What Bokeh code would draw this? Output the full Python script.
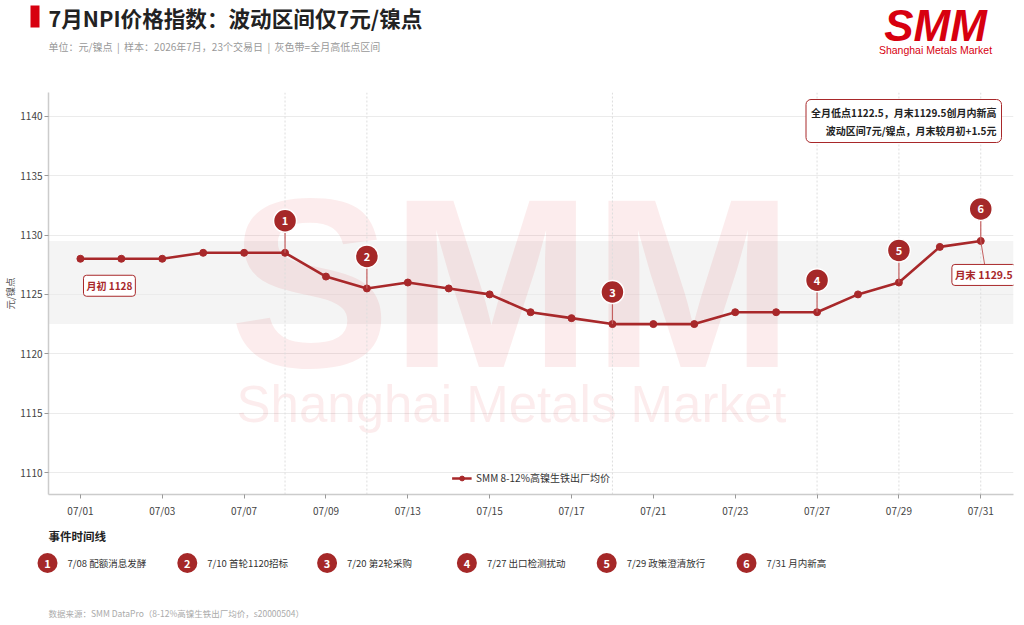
from bokeh.plotting import figure
from bokeh.models import Range1d, FixedTicker, Label, Span, BoxAnnotation, Legend, LegendItem
from bokeh.layouts import column, row
from bokeh.embed import file_html
from bokeh.resources import INLINE
from bokeh.core.properties import value

# ---------------- data ----------------
dates = ["07/01", "07/02", "07/03", "07/06", "07/07", "07/08", "07/09", "07/10",
         "07/13", "07/14", "07/15", "07/16", "07/17", "07/20", "07/21", "07/22",
         "07/23", "07/24", "07/27", "07/28", "07/29", "07/30", "07/31"]
prices = [1128, 1128, 1128, 1128.5, 1128.5, 1128.5, 1126.5, 1125.5,
          1126, 1125.5, 1125, 1123.5, 1123, 1122.5, 1122.5, 1122.5,
          1123.5, 1123.5, 1123.5, 1125, 1126, 1129, 1129.5]
event_nums = ["1", "2", "3", "4", "5", "6"]
event_dates = ["07/08", "07/10", "07/20", "07/27", "07/29", "07/31"]
event_texts = ["7/08 配额消息发酵", "7/10 首轮1120招标", "7/20 第2轮采购",
               "7/27 出口检测扰动", "7/29 政策澄清放行", "7/31 月内新高"]
y_ticks = [1110, 1115, 1120, 1125, 1130, 1135, 1140]
tick_idx = list(range(0, len(dates), 2))
series_name = "SMM 8-12%高镍生铁出厂均价"

SP = "\u00a0\u00a0"
title = "7月NPI价格指数：波动区间仅7元/镍点"
subtitle = ("单位：元/镍点" + SP + "|" + SP + "样本：2026年7月，23个交易日" + SP + "|" + SP
            + "灰色带=全月高低点区间")
note = "全月低点1122.5，月末1129.5创月内新高\n波动区间7元/镍点，月末较月初+1.5元"
source = "数据来源：SMM DataPro（8-12%高镍生铁出厂均价，s20000504）"
start_label = "月初 1128"
end_label = "月末 1129.5"

CJK = "Noto Sans CJK SC"
RED = "#A8282A"
DARK_RED = "#A52828"
LOGO_RED = "#D7000F"
W = 1020
HEAD_H, MAIN_H, FOOT_H = 88, 434, 100


def bare(height):
    f = figure(width=W, height=height, x_range=Range1d(0, W), y_range=Range1d(height, 0),
               output_backend="svg", toolbar_location=None, min_border=0,
               x_axis_type=None, y_axis_type=None)
    f.outline_line_color = None
    f.grid.visible = False
    return f


# ---------------- header ----------------
h = bare(HEAD_H)
h.quad(left=30, right=39, top=5, bottom=27, fill_color=LOGO_RED, line_color=None)
h.add_layout(Label(x=48, y=16.5, text=title, text_font=CJK, text_font_size="21.6px",
                   text_font_style="bold", text_color="#222222", text_baseline="middle"))
h.add_layout(Label(x=48, y=45.5, text=subtitle, text_font=CJK, text_font_size="10px",
                   text_color="#999999", text_baseline="middle"))
h.add_layout(Label(x=935, y=25, text="SMM", text_font="Liberation Sans", text_font_size="44px",
                   text_font_style="bold italic", text_color=LOGO_RED, text_align="center",
                   text_baseline="middle"))
h.add_layout(Label(x=935, y=49, text="Shanghai Metals Market", text_font="Liberation Sans",
                   text_font_size="10.5px", text_color=LOGO_RED, text_align="center",
                   text_baseline="middle"))

# ---------------- main chart ----------------
idx = list(range(len(dates)))
p = figure(width=W, height=MAIN_H, x_range=Range1d(-0.78, 22.8),
           y_range=Range1d(1108.15, 1142.0),
           output_backend="svg", toolbar_location=None,
           min_border_left=48, min_border_right=W - 1013, min_border_top=92 - HEAD_H,
           min_border_bottom=HEAD_H + MAIN_H - 494)
p.outline_line_color = None
p.xgrid.grid_line_color = None
p.ygrid.grid_line_color = "#ebebeb"
p.ygrid.grid_line_width = 1

p.yaxis.ticker = FixedTicker(ticks=y_ticks)
p.xaxis.ticker = FixedTicker(ticks=tick_idx)
p.xaxis.major_label_overrides = {i: dates[i] for i in tick_idx}
for ax in (p.xaxis, p.yaxis):
    ax.axis_line_color = "#cccccc"
    ax.axis_line_width = 1.5
    ax.major_tick_line_color = "#999999"
    ax.major_tick_out = 4
    ax.major_tick_in = 0
    ax.minor_tick_line_color = None
    ax.major_label_text_font = CJK
    ax.major_label_text_font_size = "10px"
    ax.major_label_text_color = "#444444"
    ax.major_label_standoff = 4
p.yaxis.major_label_standoff = 2
p.yaxis.axis_label = "元/镍点"
p.yaxis.axis_label_text_font = CJK
p.yaxis.axis_label_text_font_size = "9.5px"
p.yaxis.axis_label_text_font_style = "normal"
p.yaxis.axis_label_text_color = "#555555"
p.yaxis.axis_label_standoff = 0

# range band
p.add_layout(BoxAnnotation(bottom=min(prices), top=max(prices), fill_color="#f4f4f4",
                           fill_alpha=1, line_color=None, level="image"))

# watermark (screen units relative to the frame: left 48, bottom 494)
p.add_layout(Label(x=511 - 48, y=494 - 282, x_units="screen", y_units="screen", text="SMM",
                   text_font="Liberation Sans", text_font_size="242px", text_font_style="bold",
                   text_color=LOGO_RED, text_alpha=0.075, text_align="center",
                   text_baseline="middle", level="underlay"))
p.add_layout(Label(x=511 - 48, y=494 - 404, x_units="screen", y_units="screen",
                   text="Shanghai Metals Market",
                   text_font="Liberation Sans", text_font_size="51px",
                   text_color=LOGO_RED, text_alpha=0.075, text_align="center",
                   text_baseline="middle", level="underlay"))

# event vertical lines
ev_idx = [dates.index(d) for d in event_dates]
ev_price = [prices[i] for i in ev_idx]
for i in ev_idx:
    p.add_layout(Span(location=i, dimension="height", line_color="#dddddd",
                      line_dash="2 2", line_width=1, level="underlay"))

# series
line_r = p.line(idx, prices, line_color=RED, line_width=2.6)
pts_r = p.scatter(idx, prices, size=7, fill_color=RED, line_color=RED)

# event markers
stem_off = 2.7
p.segment(x0=ev_idx, y0=ev_price, x1=ev_idx, y1=[v + stem_off for v in ev_price],
          line_color="#c46060", line_width=1.2)
p.scatter(ev_idx, [v + stem_off for v in ev_price], size=23, fill_color=DARK_RED,
          line_color="white", line_width=1.5)
p.text(ev_idx, [v + stem_off for v in ev_price], text=event_nums, text_align="center",
       text_baseline="middle", text_color="white", text_font=value(CJK),
       text_font_size="11px", text_font_style="bold")

# start / end labels
p.add_layout(Label(x=idx[0], y=prices[0], x_offset=29, y_offset=-27, text=start_label,
                   text_font=CJK, text_font_size="10px", text_font_style="bold",
                   text_color=RED, text_align="center", text_baseline="middle",
                   background_fill_color="white", border_line_color=RED,
                   border_line_width=1, border_radius=3, padding=3))
p.segment(x0=[idx[-1]], y0=[prices[-1]], x1=[idx[-1] + 0.1], y1=[prices[-1] - 2.1],
          line_color="#c46060", line_width=1)
p.add_layout(Label(x=idx[-1], y=prices[-1], x_offset=3, y_offset=-34, text=end_label,
                   text_font=CJK, text_font_size="10.5px", text_font_style="bold",
                   text_color=RED, text_align="center", text_baseline="middle",
                   background_fill_color="white", border_line_color=RED,
                   border_line_width=1, border_radius=3, padding=3))

# note box
p.add_layout(Label(x=1001 - 48, y=494 - 99, x_units="screen", y_units="screen", text=note,
                   text_font=CJK, text_font_size="10px", text_font_style="bold",
                   text_color="#222222", text_align="right", text_baseline="top",
                   text_line_height=1.2, background_fill_color="white",
                   border_line_color=RED, border_line_width=1, border_radius=5, padding=5))

legend = Legend(items=[LegendItem(label=series_name, renderers=[line_r, pts_r])],
                location="bottom_center", orientation="horizontal")
legend.label_text_font = CJK
legend.label_text_font_size = "10px"
legend.label_text_color = "#333333"
legend.background_fill_alpha = 0
legend.border_line_color = None
legend.glyph_width = 20
legend.glyph_height = 12
legend.margin = 9
legend.padding = 4
p.add_layout(legend)

# ---------------- event timeline + source ----------------
f = bare(FOOT_H)
top0 = HEAD_H + MAIN_H
f.add_layout(Label(x=48, y=535 - top0, text="事件时间线", text_font=CJK,
                   text_font_size="11.5px", text_font_style="bold", text_color="#222222",
                   text_baseline="middle"))
step = 139.8
ev_y = 562.5 - top0
cx = [47 + k * step for k in range(len(event_nums))]
f.scatter(cx, [ev_y] * len(cx), size=20, fill_color=DARK_RED, line_color=None)
f.text(cx, [ev_y] * len(cx), text=event_nums, text_align="center", text_baseline="middle",
       text_color="white", text_font=value(CJK), text_font_size="11px", text_font_style="bold")
f.text([c + 20 for c in cx], [ev_y] * len(cx), text=event_texts, text_align="left",
       text_baseline="middle", text_color="#333333", text_font=value(CJK),
       text_font_size="9.5px")
f.add_layout(Label(x=48, y=612 - top0, text=source, text_font=CJK, text_font_size="8.5px",
                   text_color="#aaaaaa", text_baseline="middle"))

layout = column(h, row(p), f, spacing=0)
open("out.html", "w").write(file_html(layout, INLINE))
